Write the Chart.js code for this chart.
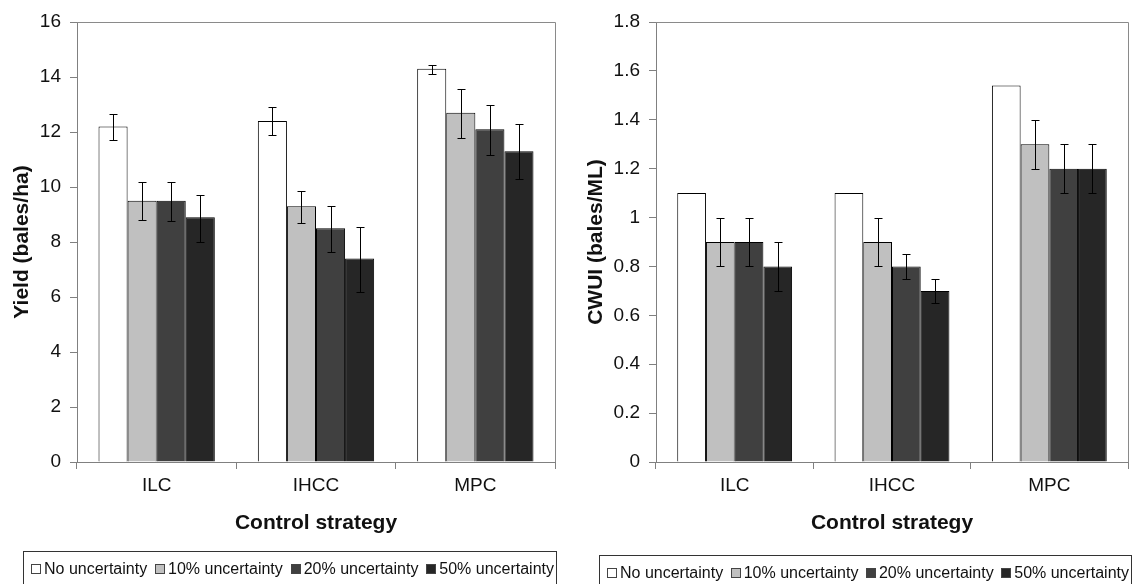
<!DOCTYPE html>
<html><head><meta charset="utf-8">
<script src="https://cdn.jsdelivr.net/npm/chart.js@4.4.1/dist/chart.umd.min.js"></script>
<style>
html,body{margin:0;padding:0;background:#fff;width:1132px;height:584px;overflow:hidden;font-family:"Liberation Sans",Arial,sans-serif;}
.wrap{position:absolute;top:0;height:584px;}
.legend{position:absolute;border:1px solid #333;box-sizing:border-box;display:flex;justify-content:space-between;align-items:center;font-size:16px;color:#111;white-space:nowrap;padding:0 2px 0 7px;height:36px;}
.item{display:flex;align-items:center;}
.mk{width:8px;height:8px;border:1px solid #444;margin-right:3px;display:inline-block;}
</style></head><body>
<div class="wrap" style="left:0;width:570px"><canvas id="c1"></canvas></div>
<div class="wrap" style="left:570px;width:562px"><canvas id="c2"></canvas></div>
<div class="legend" id="lg1" style="left:23px;top:551px;width:534px"></div>
<div class="legend" id="lg2" style="left:599px;top:555px;width:533px"></div>
<script>
const categories = ['ILC', 'IHCC', 'MPC'];
const seriesLabels = ['No uncertainty', '10% uncertainty', '20% uncertainty', '50% uncertainty'];
const seriesColors = ['#ffffff', '#c0c0c0', '#404040', '#262626'];

// Yield (bales/ha)
const yieldNo  = [12.2, 12.4, 14.3];
const yield10  = [9.5, 9.3, 12.7];
const yield20  = [9.5, 8.5, 12.1];
const yield50  = [8.9, 7.4, 11.3];
const yieldNoErr = [[11.7, 12.65], [11.9, 12.9], [14.1, 14.45]];
const yield10Err = [[8.8, 10.2], [8.7, 9.85], [11.8, 13.55]];
const yield20Err = [[8.75, 10.2], [7.65, 9.3], [11.15, 13.0]];
const yield50Err = [[8.0, 9.7], [6.2, 8.55], [10.3, 12.3]];
const yieldTicks = ['0', '2', '4', '6', '8', '10', '12', '14', '16'];

// CWUI (bales/ML)
const cwuiNo = [1.1, 1.1, 1.54];
const cwui10 = [0.9, 0.9, 1.3];
const cwui20 = [0.9, 0.8, 1.2];
const cwui50 = [0.8, 0.7, 1.2];
const cwuiNoErr = [null, null, null];
const cwui10Err = [[0.8, 1.0], [0.8, 1.0], [1.2, 1.4]];
const cwui20Err = [[0.8, 1.0], [0.75, 0.85], [1.1, 1.3]];
const cwui50Err = [[0.7, 0.9], [0.65, 0.75], [1.1, 1.3]];
const cwuiTicks = ['0', '0.2', '0.4', '0.6', '0.8', '1', '1.2', '1.4', '1.6', '1.8'];

const FONT = '"Liberation Sans", Arial, sans-serif';

const errorBars = {
  id: 'errorBars',
  afterDatasetsDraw(chart) {
    const ctx = chart.ctx, ys = chart.scales.y;
    chart.data.datasets.forEach((ds, di) => {
      if (!ds.err) return;
      const meta = chart.getDatasetMeta(di);
      meta.data.forEach((bar, i) => {
        const e = ds.err[i];
        if (!e) return;
        const x = Math.round(bar.x) + 0.5;
        const y1 = Math.round(ys.getPixelForValue(e[0])) + 0.5;
        const y2 = Math.round(ys.getPixelForValue(e[1])) + 0.5;
        ctx.save();
        ctx.strokeStyle = '#000';
        ctx.lineWidth = 1;
        ctx.beginPath();
        ctx.moveTo(x, y1); ctx.lineTo(x, y2);
        ctx.moveTo(x - 4, y1); ctx.lineTo(x + 4, y1);
        ctx.moveTo(x - 4, y2); ctx.lineTo(x + 4, y2);
        ctx.stroke();
        ctx.restore();
      });
    });
  }
};

const frame = {
  id: 'frame',
  beforeDatasetsDraw(chart) {
    const {ctx, chartArea: a} = chart;
    ctx.save();
    ctx.strokeStyle = '#8a8a8a';
    ctx.lineWidth = 1;
    ctx.beginPath();
    ctx.moveTo(Math.round(a.left), Math.round(a.top) + 0.5);
    ctx.lineTo(Math.round(a.right) + 0.5, Math.round(a.top) + 0.5);
    ctx.lineTo(Math.round(a.right) + 0.5, Math.round(a.bottom));
    ctx.stroke();
    ctx.restore();
  }
};

function makeChart(id, series, errs, yMax, yStep, tickLabels, yTitle, yAxisWidth, yTitlePad, padRight) {
  const datasets = series.map((d, i) => ({
    label: seriesLabels[i],
    data: d,
    err: errs[i],
    backgroundColor: seriesColors[i],
    borderColor: '#000',
    borderWidth: 1,
    categoryPercentage: 0.73,
    barPercentage: 1.0
  }));
  return new Chart(document.getElementById(id), {
    type: 'bar',
    data: { labels: categories, datasets },
    plugins: [frame, errorBars],
    options: {
      responsive: true,
      maintainAspectRatio: false,
      animation: false,
      layout: { padding: { left: 0, top: 22, right: padRight, bottom: 45 } },
      plugins: { legend: { display: false }, tooltip: { enabled: false } },
      scales: {
        x: {
          grid: { display: true, drawOnChartArea: false, drawTicks: true, tickLength: 7, color: '#808080', offset: true },
          border: { color: '#808080' },
          ticks: { font: { family: FONT, size: 19 }, color: '#111', padding: 5 },
          title: { display: true, text: 'Control strategy', font: { family: FONT, size: 21, weight: 'bold' }, color: '#111', padding: { top: 9, bottom: 3 } }
        },
        y: {
          min: 0, max: yMax,
          afterFit: s => { s.width = yAxisWidth; },
          grid: { display: true, drawOnChartArea: false, drawTicks: true, tickLength: 7, color: '#808080' },
          border: { color: '#808080' },
          ticks: { stepSize: yStep, font: { family: FONT, size: 19 }, color: '#111', padding: 9,
                   callback: (v, i) => tickLabels[i] },
          title: { display: true, text: yTitle, font: { family: FONT, size: 21, weight: 'bold' }, color: '#111', padding: { top: yTitlePad, bottom: 0 } }
        }
      }
    }
  });
}

makeChart('c1', [yieldNo, yield10, yield20, yield50], [yieldNoErr, yield10Err, yield20Err, yield50Err],
  16, 2, yieldTicks, 'Yield (bales/ha)', 77, 10, 15);
makeChart('c2', [cwuiNo, cwui10, cwui20, cwui50], [cwuiNoErr, cwui10Err, cwui20Err, cwui50Err],
  1.8, 0.2, cwuiTicks, 'CWUI (bales/ML)', 86, 14, 4);

function buildLegend(id) {
  const el = document.getElementById(id);
  seriesLabels.forEach((lab, i) => {
    const it = document.createElement('span');
    it.className = 'item';
    const mk = document.createElement('span');
    mk.className = 'mk';
    mk.style.background = seriesColors[i];
    const tx = document.createElement('span');
    tx.textContent = lab;
    it.appendChild(mk); it.appendChild(tx);
    el.appendChild(it);
  });
}
buildLegend('lg1');
buildLegend('lg2');
</script>
</body></html>
